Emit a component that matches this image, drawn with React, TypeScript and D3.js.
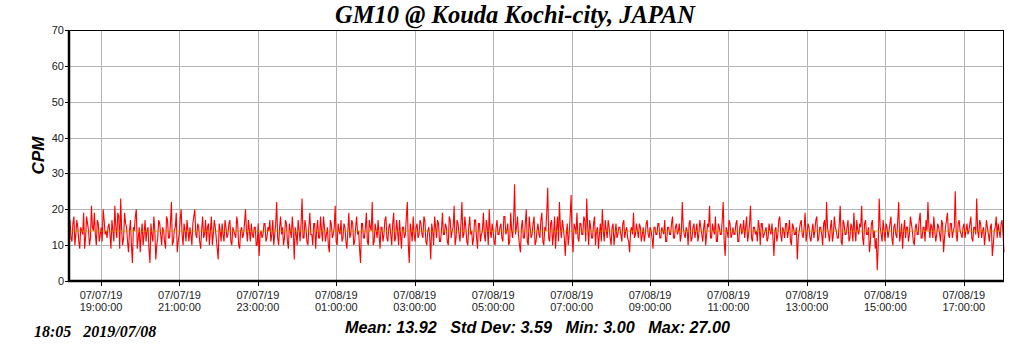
import { useEffect, useRef } from 'react'
import * as d3 from 'd3'

// counts per minute, readings at the odd slots (~3 minutes apart)
const cpm: number[] = [
  17, 11, 18, 13, 15, 9, 14, 19, 12, 16, 10, 21, 14, 13, 17, 11, 15, 20, 13, 12,
  16, 9, 14, 21, 12, 18, 23, 10, 19, 15, 8, 17, 5, 14, 20, 12, 8, 16, 13, 11,
  15, 5, 13, 18, 6, 12, 16, 10, 14, 9, 17, 12, 22, 11, 15, 8, 13, 20, 10, 14,
  17, 11, 13, 16, 20, 12, 15, 9, 18, 13, 11, 16, 14, 10, 17, 12, 6, 14, 16, 11,
  15, 13, 17, 10, 14, 12, 16, 9, 15, 13, 20, 11, 14, 16, 12, 15, 10, 7, 14, 13,
  16, 12, 14, 11, 17, 13, 22, 10, 18, 15, 12, 16, 9, 14, 18, 6, 13, 17, 11, 23,
  12, 15, 10, 19, 13, 16, 9, 17, 12, 14, 18, 11, 15, 8, 16, 13, 21, 10, 14, 17,
  12, 15, 9, 19, 13, 16, 11, 18, 14, 5, 16, 12, 19, 10, 15, 22, 11, 14, 17, 9,
  15, 13, 18, 11, 16, 10, 19, 12, 14, 17, 9, 15, 13, 22, 5, 14, 18, 11, 16, 13,
  16, 12, 17, 10, 15, 6, 14, 18, 12, 16, 11, 19, 13, 15, 10, 17, 14, 21, 12, 16,
  11, 22, 13, 15, 10, 18, 14, 12, 17, 9, 16, 13, 19, 11, 15, 20, 12, 14, 10, 17,
  13, 16, 11, 18, 14, 10, 19, 12, 27, 15, 13, 8, 17, 12, 20, 10, 15, 13, 18, 11,
  16, 12, 19, 10, 14, 26, 11, 17, 13, 9, 18, 22, 12, 15, 7, 16, 13, 24, 8, 15,
  19, 11, 16, 13, 17, 23, 10, 15, 12, 18, 14, 9, 16, 20, 11, 14, 17, 12, 15, 10,
  16, 13, 15, 11, 17, 14, 12, 8, 15, 19, 13, 14, 16, 11, 15, 13, 17, 12, 14, 9,
  15, 13, 16, 12, 14, 17, 11, 15, 13, 18, 12, 16, 14, 11, 22, 13, 15, 10, 17, 12,
  16, 14, 11, 17, 13, 15, 10, 16, 21, 12, 14, 18, 11, 15, 13, 22, 7, 14, 17, 12,
  15, 13, 17, 11, 16, 14, 12, 18, 13, 21, 11, 15, 14, 17, 10, 16, 13, 15, 12, 14,
  16, 7, 15, 13, 18, 11, 14, 16, 12, 17, 10, 15, 13, 6, 14, 17, 12, 19, 13, 15,
  11, 16, 14, 18, 12, 15, 10, 17, 22, 13, 15, 11, 18, 14, 12, 21, 10, 16, 13, 17,
  12, 15, 19, 11, 14, 16, 21, 10, 17, 13, 8, 16, 12, 9, 3, 23, 13, 17, 11, 15,
  14, 18, 10, 16, 12, 22, 13, 9, 17, 15, 11, 18, 14, 10, 16, 13, 19, 12, 15, 17,
  22, 12, 15, 18, 11, 16, 13, 17, 8, 15, 19, 12, 16, 14, 25, 11, 17, 13, 15, 12,
  16, 14, 18, 11, 15, 23, 12, 16, 14, 10, 17, 13, 15, 7, 14, 18, 16, 12, 17, 8,
]

// readings in between the ones above
const cpmMid: number[] = [
  12, 16, 10, 17, 11, 15, 13, 9, 18, 14, 12, 15, 19, 10, 16, 13, 11, 17, 14, 15,
  13, 17, 11, 15, 19, 9, 14, 12, 16, 11, 14, 10, 15, 18, 9, 15, 13, 10, 17, 14,
  9, 16, 11, 14, 10, 17, 13, 15, 11, 18, 12, 16, 10, 14, 19, 11, 17, 13, 16, 11,
  14, 15, 10, 18, 13, 16, 11, 14, 12, 17, 15, 10, 18, 13, 15, 9, 16, 11, 13, 17,
  12, 16, 11, 15, 13, 18, 10, 14, 12, 16, 14, 17, 11, 13, 15, 10, 16, 13, 12, 16,
  11, 15, 17, 13, 10, 16, 12, 15, 13, 10, 17, 11, 16, 12, 14, 15, 10, 14, 16, 12,
  17, 11, 15, 13, 10, 16, 14, 12, 18, 11, 15, 13, 10, 17, 12, 15, 11, 16, 13, 11,
  16, 11, 14, 12, 17, 10, 15, 13, 9, 16, 12, 15, 11, 17, 14, 10, 16, 12, 13, 15,
  11, 17, 12, 15, 13, 16, 11, 17, 10, 13, 15, 12, 18, 10, 16, 11, 13, 15, 12, 17,
  13, 18, 11, 14, 12, 16, 10, 15, 17, 11, 14, 13, 16, 11, 18, 12, 15, 10, 17, 13,
  16, 12, 18, 11, 15, 13, 10, 17, 12, 16, 11, 14, 13, 17, 10, 14, 16, 11, 15, 13,
  15, 12, 18, 13, 16, 11, 14, 17, 13, 18, 10, 15, 12, 16, 11, 18, 12, 16, 10, 14,
  13, 17, 11, 15, 19, 12, 16, 10, 18, 14, 11, 15, 17, 12, 13, 10, 18, 12, 16, 13,
  12, 16, 13, 18, 11, 15, 17, 12, 16, 10, 15, 13, 11, 14, 17, 12, 15, 10, 16, 13,
  12, 15, 13, 16, 12, 15, 11, 14, 13, 12, 16, 12, 15, 13, 11, 16, 13, 15, 12, 15,
  13, 16, 12, 15, 13, 11, 15, 13, 16, 12, 15, 13, 16, 13, 15, 12, 14, 16, 11, 15,
  12, 16, 13, 15, 11, 17, 13, 15, 12, 16, 13, 11, 16, 13, 17, 11, 15, 12, 16, 13,
  13, 16, 11, 15, 13, 17, 15, 11, 16, 12, 15, 13, 11, 15, 16, 12, 14, 11, 16, 13,
  12, 14, 11, 17, 13, 15, 12, 16, 14, 11, 16, 13, 15, 12, 16, 13, 15, 11, 16, 12,
  14, 12, 17, 11, 15, 13, 16, 12, 15, 11, 17, 13, 15, 12, 16, 11, 17, 13, 15, 11,
  16, 11, 14, 17, 13, 15, 12, 16, 13, 15, 11, 17, 14, 12, 10, 15, 11, 14, 16, 12,
  16, 12, 15, 13, 17, 11, 16, 14, 12, 15, 13, 16, 11, 15, 13, 17, 12, 15, 11, 14,
  15, 16, 12, 14, 13, 15, 11, 16, 12, 17, 13, 16, 12, 15, 13, 16, 14, 12, 16, 14,
  13, 16, 12, 15, 13, 14, 17, 12, 15, 13, 15, 11, 16, 10, 15, 12, 14, 16, 13,
]

const startTime = new Date(2019, 6, 7, 18, 12, 30)
const stepSeconds = 89.5
const yTicks = [0, 10, 20, 30, 40, 50, 60, 70]
const title = 'GM10 @ Kouda Kochi-city, JAPAN'
const stamp = '18:05\u00a0\u00a0\u00a02019/07/08'
const stats = { mean: '13.92', std: '3.59', min: '3.00', max: '27.00' }
const meanValue = 13.92

const width = 1024
const height = 351
const margin = { top: 30, right: 20, bottom: 70, left: 70 }

export default function App() {
  const svgRef = useRef<SVGSVGElement>(null)

  useEffect(() => {
    document.body.style.margin = '0'
    if (!svgRef.current) return
    const svg = d3.select(svgRef.current)
    svg.selectAll('*').remove()

    const values: number[] = []
    cpm.forEach((v, i) => {
      values.push(v)
      if (i < cpmMid.length) values.push(cpmMid[i])
    })
    const data = values.map((v, i) => ({
      t: new Date(startTime.getTime() + i * stepSeconds * 1000),
      v,
    }))

    const innerWidth = width - margin.left - margin.right
    const innerHeight = height - margin.top - margin.bottom

    const x = d3.scaleTime()
      .domain(d3.extent(data, d => d.t) as [Date, Date])
      .range([0, innerWidth])
    const y = d3.scaleLinear().domain([0, 70]).range([innerHeight, 0])

    svg.append('rect').attr('width', width).attr('height', height).attr('fill', '#fff')

    svg.append('text')
      .attr('x', 515).attr('y', 23)
      .attr('text-anchor', 'middle')
      .attr('font-family', '"Liberation Serif", "Times New Roman", serif')
      .attr('font-weight', 'bold').attr('font-style', 'italic')
      .attr('font-size', 24.5)
      .text(title)

    const g = svg.append('g').attr('transform', `translate(${margin.left},${margin.top})`)

    const xTicks = d3.timeHour.range(x.domain()[0], x.domain()[1])
      .filter(d => d.getHours() % 2 === 1)

    // grid
    g.append('g').selectAll('line').data(yTicks.slice(1)).enter().append('line')
      .attr('x1', 0).attr('x2', innerWidth)
      .attr('y1', d => Math.round(y(d)) + 0.5).attr('y2', d => Math.round(y(d)) + 0.5)
      .attr('stroke', '#b4b4b4')
    g.append('g').selectAll('line').data(xTicks).enter().append('line')
      .attr('x1', d => Math.round(x(d)) + 0.5).attr('x2', d => Math.round(x(d)) + 0.5)
      .attr('y1', 0).attr('y2', innerHeight)
      .attr('stroke', '#b4b4b4')

    const line = d3.line<{ t: Date; v: number }>()
      .x(d => x(d.t))
      .y(d => y(d.v))

    g.append('path')
      .datum(data)
      .attr('d', line)
      .attr('fill', 'none')
      .attr('stroke', '#ff0000')
      .attr('stroke-width', 1.1)

    g.append('line')
      .attr('x1', 0).attr('x2', innerWidth)
      .attr('y1', y(meanValue)).attr('y2', y(meanValue))
      .attr('stroke', '#c09000')
      .attr('stroke-opacity', 0.8)

    // frame
    g.append('line').attr('x1', 0).attr('x2', innerWidth).attr('y1', 0.5).attr('y2', 0.5)
      .attr('stroke', '#000')
    g.append('line').attr('x1', innerWidth - 0.5).attr('x2', innerWidth - 0.5).attr('y1', 0).attr('y2', innerHeight)
      .attr('stroke', '#000')
    g.append('line').attr('x1', -1).attr('x2', -1).attr('y1', 0).attr('y2', innerHeight + 1)
      .attr('stroke', '#000').attr('stroke-width', 2.5)
    g.append('line').attr('x1', -2).attr('x2', innerWidth).attr('y1', innerHeight).attr('y2', innerHeight)
      .attr('stroke', '#000').attr('stroke-width', 2.5)

    // y axis ticks
    const yAx = g.append('g')
    yAx.selectAll('line').data(yTicks).enter().append('line')
      .attr('x1', -5).attr('x2', -1)
      .attr('y1', d => Math.round(y(d)) + 0.5).attr('y2', d => Math.round(y(d)) + 0.5)
      .attr('stroke', '#000')
    yAx.selectAll('text').data(yTicks).enter().append('text')
      .attr('x', -6).attr('y', d => y(d) + 4)
      .attr('text-anchor', 'end')
      .attr('font-family', 'Arial, "Liberation Sans", sans-serif')
      .attr('font-size', 11).attr('fill', '#222')
      .text(d => d)

    // x axis ticks
    const fmtDate = d3.timeFormat('%m/%d/%y')
    const fmtTime = d3.timeFormat('%H:%M:%S')
    const xAx = g.append('g')
    xAx.selectAll('line').data(xTicks).enter().append('line')
      .attr('x1', d => Math.round(x(d)) + 0.5).attr('x2', d => Math.round(x(d)) + 0.5)
      .attr('y1', innerHeight).attr('y2', innerHeight + 5)
      .attr('stroke', '#000')
    const lbl = xAx.selectAll('text').data(xTicks).enter().append('text')
      .attr('text-anchor', 'middle')
      .attr('font-family', 'Arial, "Liberation Sans", sans-serif')
      .attr('font-size', 11).attr('fill', '#222')
    lbl.append('tspan').attr('x', d => x(d)).attr('y', innerHeight + 18).text(d => fmtDate(d))
    lbl.append('tspan').attr('x', d => x(d)).attr('y', innerHeight + 30).text(d => fmtTime(d))

    svg.append('text')
      .attr('transform', `translate(44,${margin.top + innerHeight / 2}) rotate(-90)`)
      .attr('text-anchor', 'middle')
      .attr('font-family', 'Arial, "Liberation Sans", sans-serif')
      .attr('font-weight', 'bold').attr('font-style', 'italic')
      .attr('font-size', 17)
      .text('CPM')

    svg.append('text')
      .attr('x', 34).attr('y', 337)
      .attr('font-family', '"Liberation Serif", "Times New Roman", serif')
      .attr('font-weight', 'bold').attr('font-style', 'italic')
      .attr('font-size', 16)
      .text(stamp)

    svg.append('text')
      .attr('x', 345).attr('y', 333)
      .attr('font-family', 'Arial, "Liberation Sans", sans-serif')
      .attr('font-weight', 'bold').attr('font-style', 'italic')
      .attr('font-size', 16.2)
      .attr('xml:space', 'preserve')
      .style('white-space', 'pre')
      .text(`Mean: ${stats.mean}   Std Dev: ${stats.std}   Min: ${stats.min}   Max: ${stats.max}`)
  }, [])

  return <svg ref={svgRef} width={width} height={height} style={{ display: 'block' }} />
}
